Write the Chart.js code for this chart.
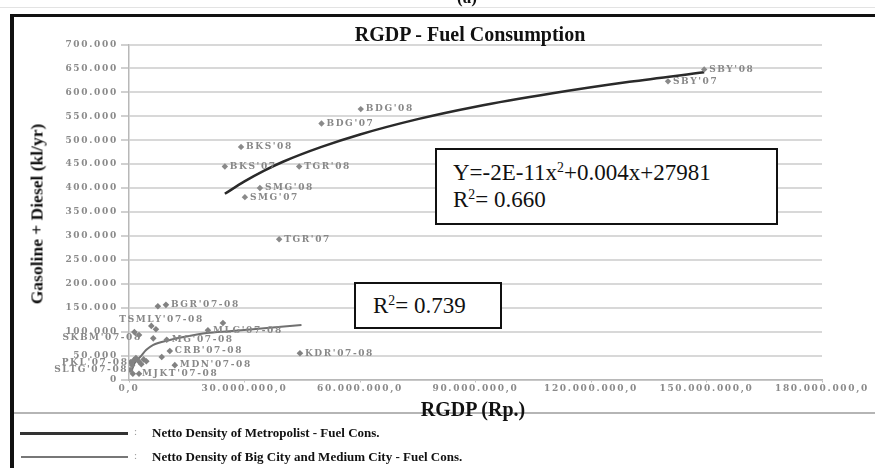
<!DOCTYPE html>
<html lang="en">
<head>
<meta charset="UTF-8">
<title>RGDP - Fuel Consumption</title>
<script src="https://cdn.jsdelivr.net/npm/chart.js"></script>
<style>
  body { margin: 0; background: #fff; }
  #wrap { position: relative; width: 875px; height: 468px; overflow: hidden; }
  #c { position: absolute; left: 0; top: 0; }
  .abs { position: absolute; }
  .serif { font-family: "Liberation Serif", "Times New Roman", serif; color: #111; white-space: nowrap; }
  .box { position: absolute; box-sizing: border-box; border: 2px solid #111; background: #fff; font-family: "Liberation Serif", serif; font-size: 23px; line-height: 27px; color: #111; white-space: nowrap; }
  sup { font-size: 0.6em; vertical-align: 0.55em; line-height: 0; }
</style>
</head>
<body>
<div id="wrap">
  <canvas id="c" width="875" height="468"></canvas>

  <!-- frame -->
  <div class="abs" style="left:0;top:7px;width:875px;height:1px;background:#e3e3e3"></div>
  <div class="abs serif" style="left:467px;top:-12px;transform:translateX(-50%);font-size:17px;font-weight:bold">(a)</div>
  <div class="abs" style="left:10px;top:14px;right:0;height:3px;background:#111"></div>
  <div class="abs" style="left:10px;top:14px;width:4px;bottom:0;background:#111"></div>
  <div class="abs" style="left:14px;top:412px;right:0;height:2px;background:#b5b5b5"></div>

  <!-- titles -->
  <div class="abs serif" style="left:470px;top:34px;transform:translate(-50%,-50%);font-size:20px;font-weight:bold">RGDP - Fuel Consumption</div>
  <div class="abs serif" style="left:473px;top:409px;transform:translate(-50%,-50%);font-size:20px;font-weight:bold">RGDP (Rp.)</div>
  <div class="abs serif" style="left:37px;top:214px;transform:translate(-50%,-50%) rotate(-90deg);font-size:17.5px;font-weight:bold">Gasoline + Diesel (kl/yr)</div>

  <!-- regression boxes -->
  <div class="box" style="left:435px;top:148px;width:343px;height:77px;padding:9px 0 0 16px">Y=-2E-11x<sup>2</sup>+0.004x+27981<br>R<sup>2</sup>= 0.660</div>
  <div class="box" style="left:354px;top:282px;width:148px;height:47px;padding:8px 0 0 17px">R<sup>2</sup>= 0.739</div>

  <!-- legend -->
  <div class="abs" style="left:20px;top:432px;width:108px;height:2.5px;background:#333"></div>
  <div class="abs serif" style="left:134px;top:425px;font-size:11px;color:#999">:</div>
  <div class="abs serif" style="left:152px;top:425px;font-size:13px;font-weight:bold">Netto Density of Metropolist - Fuel Cons.</div>
  <div class="abs" style="left:21px;top:456px;width:107px;height:1.5px;background:#777"></div>
  <div class="abs serif" style="left:134px;top:449px;font-size:11px;color:#999">:</div>
  <div class="abs serif" style="left:152px;top:449px;font-size:13px;font-weight:bold">Netto Density of Big City and Medium City - Fuel Cons.</div>
</div>

<script>
// metropolitan cities (RGDP in Rp., fuel in kl/yr)
const metroNames = ["SBY'08", "SBY'07", "BDG'08", "BDG'07", "BKS'08", "BKS'07", "TGR'08", "SMG'08", "SMG'07", "TGR'07"];
const metroRgdp = [149400000, 140000000, 60200000, 50000000, 29100000, 24900000, 44200000, 34000000, 30100000, 39000000];
const metroFuel = [648000, 623000, 565000, 535000, 486000, 445000, 445000, 400000, 381000, 293000];

// big and medium cities
const cityNames = ["", "BGR'07-08", "TSMLY'07-08", "", "SKBM'07-08", "", "", "MG'07-08", "CRB'07-08", "", "MDN'07-08", "", "MLG'07-08", "KDR'07-08",
                   "PKL'07-08", "SLTG'07-08", "MJKT'07-08", "", "", "", "", "", "", "", ""];
const cityRgdp = [7500000, 9600000, 5800000, 7000000, 1400000, 2600000, 6300000, 9800000, 10600000, 8500000, 11900000, 24400000, 20500000, 44400000,
                  400000, 300000, 2600000, 800000, 1200000, 1800000, 2500000, 3200000, 3800000, 4500000, 1000000];
const cityFuel = [153000, 156000, 112000, 105000, 99000, 93000, 86000, 83000, 59600, 47000, 30000, 118000, 103000, 54700,
                  36000, 20000, 12000, 30000, 40000, 45000, 38000, 32000, 42000, 38000, 12000];

// trend curves
const metroTrendX = [24900000, 30000000, 35000000, 40000000, 50000000, 60000000, 75000000, 90000000, 110000000, 130000000, 149400000];
const metroTrendY = [388000, 414000, 436000, 455000, 486000, 512000, 544000, 570000, 598000, 622000, 642000];
const cityTrendX = [600000, 1500000, 2900000, 4500000, 6200000, 10600000, 15000000, 20200000, 26000000, 32200000, 38000000, 44800000];
const cityTrendY = [17000, 35000, 47000, 62000, 72000, 82600, 90000, 97000, 101000, 105000, 109000, 114000];

// axis ticks
const xTickStep = 30000000, xMax = 180000000;
const yTickStep = 50000, yMax = 700000;

function dots(n) {
  return String(n).replace(/\B(?=(\d{3})+(?!\d))/g, '.');
}

function toPoints(xs, ys) {
  return xs.map((x, i) => ({ x: x, y: ys[i] }));
}

// where each label sits relative to its marker
const labelPlace = {
  "TSMLY'07-08": { dx: -32, dy: -6, align: 'left' },
  "SKBM'07-08": { dx: -72, dy: 6, align: 'left' },
  "PKL'07-08": { dx: -2, dy: 0, align: 'right' },
  "SLTG'07-08": { dx: -2, dy: 0, align: 'right' },
  "MJKT'07-08": { dx: 3, dy: 0, align: 'left' }
};

const pointLabels = {
  id: 'pointLabels',
  beforeDraw(chart) {
    chart.ctx.letterSpacing = '1.7px';
  },
  afterDatasetsDraw(chart) {
    const ctx = chart.ctx;
    ctx.save();
    ctx.font = 'bold 9px "DejaVu Serif"';
    ctx.letterSpacing = '1.6px';
    ctx.fillStyle = '#888';
    ctx.textBaseline = 'middle';
    chart.data.datasets.forEach((ds, i) => {
      if (!ds.names) return;
      chart.getDatasetMeta(i).data.forEach((pt, j) => {
        const name = ds.names[j];
        if (!name) return;
        const p = labelPlace[name] || { dx: 5, dy: 0, align: 'left' };
        ctx.textAlign = p.align;
        ctx.fillText(name, pt.x + p.dx, pt.y + p.dy);
      });
    });
    ctx.restore();
  }
};

const tickFont = { family: 'DejaVu Serif', size: 9, weight: 'bold' };

new Chart(document.getElementById('c'), {
  type: 'scatter',
  data: {
    datasets: [
      {
        data: toPoints(cityRgdp, cityFuel),
        names: cityNames,
        pointStyle: 'rectRot', pointRadius: 3.3,
        backgroundColor: '#828282', borderWidth: 0
      },
      {
        data: toPoints(metroRgdp, metroFuel),
        names: metroNames,
        pointStyle: 'rectRot', pointRadius: 3.2,
        backgroundColor: '#8a8a8a', borderWidth: 0
      },
      {
        data: toPoints(metroTrendX, metroTrendY),
        showLine: true, pointRadius: 0,
        borderColor: '#2a2a2a', borderWidth: 2.5,
        cubicInterpolationMode: 'monotone'
      },
      {
        data: toPoints(cityTrendX, cityTrendY),
        showLine: true, pointRadius: 0,
        borderColor: '#707070', borderWidth: 2,
        cubicInterpolationMode: 'monotone'
      }
    ]
  },
  options: {
    responsive: false,
    animation: false,
    layout: { padding: { left: 0, right: 53, top: 44.5, bottom: 0 } },
    plugins: { legend: { display: false }, tooltip: { enabled: false } },
    scales: {
      x: {
        type: 'linear', min: 0, max: xMax,
        afterFit(scale) { scale.height = 88.5; },
        ticks: {
          stepSize: xTickStep, autoSkip: false, maxRotation: 0, padding: 1,
          color: '#8a8a8a', font: tickFont,
          callback: v => v === 0 ? '0,0' : dots(v) + ',0'
        },
        grid: { drawOnChartArea: false, drawTicks: true, tickLength: 3, tickColor: '#bdbdbd' },
        border: { color: '#b8b8b8', width: 1.5 }
      },
      y: {
        min: 0, max: yMax,
        afterFit(scale) { scale.width = 129; },
        ticks: {
          stepSize: yTickStep, padding: 3,
          color: '#8a8a8a', font: tickFont,
          callback: v => v === 0 ? '0' : dots(v)
        },
        grid: { color: '#d8d8d8', lineWidth: 2, tickLength: 8, tickColor: '#d0d0d0' },
        border: { color: '#b8b8b8', width: 1.5 }
      }
    }
  },
  plugins: [pointLabels]
});
</script>
</body>
</html>
